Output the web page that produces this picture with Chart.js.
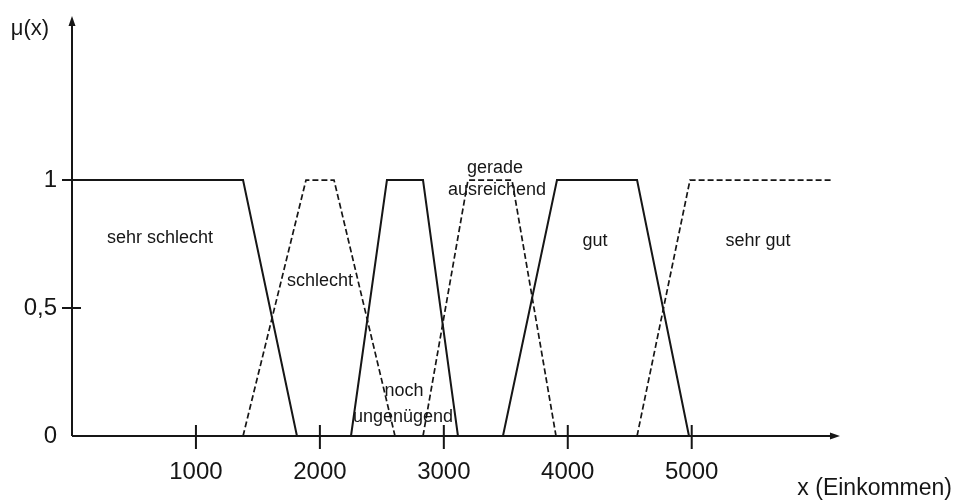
<!DOCTYPE html>
<html><head><meta charset="utf-8">
<script src="https://cdn.jsdelivr.net/npm/chart.js@4/dist/chart.umd.min.js"></script>
<style>html,body{margin:0;padding:0;background:#fff}canvas{display:block}</style>
</head><body>
<canvas id="c" width="958" height="502"></canvas>
<script>
// ---- data ----
const xTickValues = [1000, 2000, 3000, 4000, 5000];
const yTickValues = [0, 0.5, 1];
const yTickLabels = ['0', '0,5', '1'];

const sehrSchlechtX = [0, 1380, 1815];
const sehrSchlechtY = [1, 1, 0];
const schlechtX = [1380, 1888, 2114, 2606];
const schlechtY = [0, 1, 1, 0];
const nochUngenuegendX = [2251, 2541, 2832, 3114];
const nochUngenuegendY = [0, 1, 1, 0];
const geradeAusreichendX = [2832, 3195, 3550, 3905];
const geradeAusreichendY = [0, 1, 1, 0];
const gutX = [3477, 3913, 4559, 4978];
const gutY = [0, 1, 1, 0];
const sehrGutX = [4559, 4986, 6140];
const sehrGutY = [0, 1, 1];

const setNames = ['sehr schlecht', 'schlecht', 'noch ungenügend', 'gerade ausreichend', 'gut', 'sehr gut'];
const labelTexts = ['sehr schlecht', 'schlecht', 'noch', 'ungenügend', 'gerade', 'ausreichend', 'gut', 'sehr gut'];
const labelX = [710, 2001, 2679, 2671, 3413, 3429, 4220, 5535];
const labelY = [0.754, 0.586, 0.156, 0.055, 1.027, 0.941, 0.742, 0.742];

const yTitle = 'μ(x)';
const xTitle = 'x (Einkommen)';

// ---- styling ----
const INK = '#161616';
const FONT = "'Liberation Sans', Arial, Helvetica, sans-serif";

function pts(xs, ys) { return xs.map((x, i) => ({x: x, y: ys[i]})); }
const seriesX = [sehrSchlechtX, schlechtX, nochUngenuegendX, geradeAusreichendX, gutX, sehrGutX];
const seriesY = [sehrSchlechtY, schlechtY, nochUngenuegendY, geradeAusreichendY, gutY, sehrGutY];
const dashed = [false, true, false, true, false, true];

const datasets = setNames.map((name, i) => ({
  label: name,
  data: pts(seriesX[i], seriesY[i]),
  showLine: true,
  borderColor: INK,
  borderWidth: dashed[i] ? 1.7 : 2,
  borderDash: dashed[i] ? [6, 3] : [],
  pointRadius: 0,
  tension: 0,
  clip: false,
  fill: false
}));

const decor = {
  id: 'decor',
  afterDatasetsDraw(chart) {
    const ctx = chart.ctx;
    const xs = chart.scales.x, ys = chart.scales.y;
    const x0 = xs.getPixelForValue(0), y0 = ys.getPixelForValue(0);
    const top = chart.chartArea.top;
    const xEnd = xs.getPixelForValue(6180);
    ctx.save();
    ctx.strokeStyle = INK; ctx.fillStyle = INK; ctx.lineWidth = 2; ctx.setLineDash([]);
    // axes
    ctx.beginPath();
    ctx.moveTo(x0, y0); ctx.lineTo(x0, top + 4);
    ctx.moveTo(x0, y0); ctx.lineTo(xEnd - 4, y0);
    ctx.stroke();
    // arrows
    ctx.beginPath();
    ctx.moveTo(x0, top - 2); ctx.lineTo(x0 - 3.5, top + 8); ctx.lineTo(x0 + 3.5, top + 8); ctx.closePath();
    ctx.moveTo(xEnd + 2, y0); ctx.lineTo(xEnd - 8, y0 - 3.5); ctx.lineTo(xEnd - 8, y0 + 3.5); ctx.closePath();
    ctx.fill();
    // tick marks
    ctx.lineWidth = 2;
    ctx.beginPath();
    xTickValues.forEach(v => { const p = xs.getPixelForValue(v); ctx.moveTo(p, y0 - 11); ctx.lineTo(p, y0 + 13); });
    yTickValues.forEach(v => { if (v > 0) { const p = ys.getPixelForValue(v); ctx.moveTo(x0 - 10, p); ctx.lineTo(x0 + 9, p); } });
    ctx.stroke();
    // titles & labels
    ctx.fillStyle = INK;
    ctx.textAlign = 'center';
    ctx.textBaseline = 'middle';
    ctx.font = '22px ' + FONT;
    ctx.fillText(yTitle, 30, 29);
    ctx.font = '18px ' + FONT;
    ctx.textBaseline = 'alphabetic';
    labelTexts.forEach((t, i) => {
      ctx.fillText(t, xs.getPixelForValue(labelX[i]), ys.getPixelForValue(labelY[i]));
    });
    ctx.restore();
  }
};

new Chart(document.getElementById('c'), {
  type: 'scatter',
  data: { datasets },
  options: {
    responsive: false,
    animation: false,
    devicePixelRatio: 1,
    layout: { padding: { top: 18, right: 6, left: 0, bottom: 0 } },
    plugins: { legend: { display: false }, tooltip: { enabled: false } },
    scales: {
      x: {
        type: 'linear', min: 0, max: 7100, position: 'bottom',
        grid: { display: false, drawTicks: false },
        border: { display: false },
        afterBuildTicks: s => { s.ticks = xTickValues.map(v => ({ value: v })); },
        afterFit: s => { s.height = 66; s.paddingLeft = 0; s.paddingRight = 0; },
        ticks: { color: INK, font: { family: FONT, size: 24 }, padding: 22, maxRotation: 0, autoSkip: false,
                 callback: v => String(v) },
        title: { display: true, text: xTitle, align: 'end', color: INK,
                 font: { family: FONT, size: 23 }, padding: { top: 0, bottom: 0 } }
      },
      y: {
        type: 'linear', min: 0, max: 1.633,
        grid: { display: false, drawTicks: false },
        border: { display: false },
        afterBuildTicks: s => { s.ticks = yTickValues.map(v => ({ value: v })); },
        afterFit: s => { s.width = 72; s.paddingTop = 0; s.paddingBottom = 0; },
        ticks: { color: INK, font: { family: FONT, size: 24 }, padding: 15,
                 callback: v => yTickLabels[yTickValues.indexOf(v)] }
      }
    }
  },
  plugins: [decor]
});
</script>
</body></html>
